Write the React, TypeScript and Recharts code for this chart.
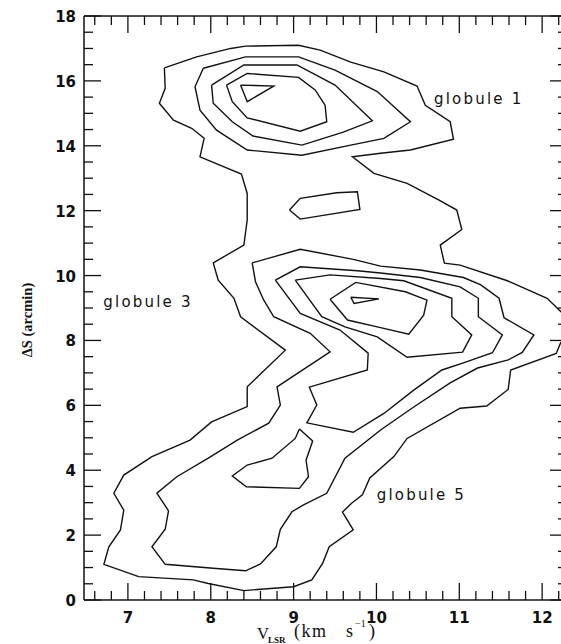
import React from 'react';
import { LineChart, Line, XAxis, YAxis, ReferenceDot } from 'recharts';

type P = [number, number];

// Contour polygons, [V_LSR (km/s), ΔS (arcmin)]
const outer: P[] = [
  [7.44, 16.4], [7.83, 16.74], [8.24, 17.0], [8.42, 17.07], [9.06, 17.1], [9.32, 16.95], [9.69, 16.58],
  [10.09, 16.28], [10.49, 15.84], [10.59, 15.25], [10.89, 14.74], [10.93, 14.2], [10.41, 13.87],
  [10.05, 13.77], [9.71, 13.66], [9.97, 13.15], [10.37, 12.84], [10.75, 12.33], [10.97, 12.02],
  [11.03, 11.42], [10.77, 10.94], [10.82, 10.38], [11.01, 10.32], [11.58, 9.84], [12.06, 9.3],
  [12.23, 8.88], [12.36, 8.4], [12.22, 7.91], [12.17, 7.6], [11.62, 7.09], [11.59, 6.49], [11.33, 5.98],
  [11.01, 5.91], [10.37, 4.98], [10.21, 4.42], [9.92, 3.76], [9.83, 3.24], [9.7, 2.98], [9.59, 2.71],
  [9.72, 2.16], [9.43, 1.64], [9.35, 1.13], [9.22, 0.62], [9.0, 0.41], [8.4, 0.29], [7.97, 0.51],
  [7.79, 0.62], [7.13, 0.72], [6.71, 1.1], [6.77, 1.64], [6.91, 2.16], [6.95, 2.77], [6.83, 3.29],
  [6.95, 3.85], [7.29, 4.42], [7.75, 4.93], [8.01, 5.49], [8.44, 5.96], [8.44, 6.57], [8.9, 7.7],
  [8.36, 8.73], [8.28, 9.3], [8.09, 9.86], [8.03, 10.39], [8.4, 10.94], [8.44, 11.71], [8.44, 12.53],
  [8.37, 13.13], [7.87, 13.66], [7.92, 14.23], [7.77, 14.54], [7.55, 14.79], [7.38, 15.31], [7.45, 15.77],
];

const g1Level2: P[] = [
  [7.91, 16.39], [8.42, 16.74], [9.06, 16.74], [9.5, 16.33], [10.01, 15.67], [10.41, 14.74],
  [10.09, 14.23], [9.69, 14.02], [9.1, 13.71], [8.44, 13.87], [8.07, 14.48], [7.87, 15.1], [7.81, 15.82],
];

const g1Level3: P[] = [
  [8.01, 15.87], [8.4, 16.49], [9.04, 16.49], [9.5, 15.87], [9.95, 14.77], [9.6, 14.42],
  [9.1, 14.02], [8.51, 14.3], [8.26, 14.74], [8.03, 15.31],
];

const g1Level4: P[] = [
  [8.19, 15.87], [8.44, 16.23], [9.06, 16.11], [9.26, 15.72], [9.38, 15.25], [9.4, 14.74],
  [9.08, 14.45], [8.44, 14.86], [8.26, 15.36],
];

const g1Level5: P[] = [[8.36, 15.87], [8.76, 15.84], [8.44, 15.36]];

const midIsland: P[] = [
  [8.95, 12.02], [9.08, 12.38], [9.52, 12.55], [9.77, 12.58], [9.8, 12.04], [9.08, 11.74],
];

const g35Level2: P[] = [
  [8.5, 10.39], [9.08, 10.81], [9.72, 10.5], [10.05, 10.29], [10.53, 10.17], [11.05, 9.94], [11.26, 9.71],
  [11.48, 9.3], [11.54, 8.7], [11.9, 8.17], [11.76, 7.63], [11.59, 7.4], [11.22, 7.15], [10.89, 6.69],
  [10.45, 5.95], [10.05, 5.24], [9.62, 4.37], [9.4, 3.29], [9.12, 2.93], [8.98, 2.72], [8.84, 2.18],
  [8.79, 1.64], [8.6, 1.11], [8.42, 0.9], [8.03, 0.98], [7.45, 1.1], [7.29, 1.64], [7.45, 2.18],
  [7.49, 2.75], [7.35, 3.29], [7.59, 3.8], [7.97, 4.37], [8.32, 4.93], [8.7, 5.45], [8.84, 6.01],
  [8.8, 6.57], [9.44, 7.65], [9.2, 8.22], [8.76, 8.73], [8.64, 9.24], [8.54, 9.81],
];

const g35Level3: P[] = [
  [8.78, 9.86], [9.08, 10.27], [9.77, 10.15], [10.05, 10.08], [10.53, 9.94], [11.01, 9.65], [11.23, 9.3],
  [11.23, 8.73], [11.52, 8.17], [11.4, 7.62], [11.05, 7.31], [10.79, 7.09], [10.45, 6.47], [10.09, 5.75],
  [9.72, 5.17], [9.16, 5.46], [9.28, 6.01], [9.19, 6.56], [9.89, 7.09], [9.9, 7.61], [9.56, 8.32],
  [9.08, 8.83],
];

const lowIsland: P[] = [
  [9.07, 5.27], [9.23, 4.9], [9.15, 4.31], [9.18, 3.8], [9.07, 3.44], [8.43, 3.49], [8.26, 3.82],
  [8.44, 4.16], [8.74, 4.37], [9.02, 4.98],
];

const g35Level4: P[] = [
  [9.02, 9.86], [9.44, 10.02], [10.05, 9.91], [10.33, 9.84], [10.91, 9.3], [10.91, 8.73], [11.15, 8.17],
  [11.04, 7.64], [10.37, 7.48], [10.01, 8.11], [9.62, 8.42], [9.34, 8.73],
];

const g35Level5: P[] = [
  [9.44, 9.27], [9.75, 9.79], [10.35, 9.5], [10.61, 9.24], [10.57, 8.78], [10.39, 8.19], [10.01, 8.42],
  [9.65, 8.63],
];

const g35Level6: P[] = [[9.69, 9.33], [10.03, 9.28], [9.73, 9.14]];

const contours: P[][] = [
  outer, g1Level2, g1Level3, g1Level4, g1Level5, midIsland,
  g35Level2, g35Level3, lowIsland, g35Level4, g35Level5, g35Level6,
];

const xTicks = [
  6.6, 6.8, 7, 7.2, 7.4, 7.6, 7.8, 8, 8.2, 8.4, 8.6, 8.8, 9, 9.2, 9.4, 9.6, 9.8, 10, 10.2, 10.4,
  10.6, 10.8, 11, 11.2, 11.4, 11.6, 11.8, 12, 12.2,
];
const xTickLabels = [7, 8, 9, 10, 11, 12];
const yTicks = [
  0, 0.5, 1, 1.5, 2, 2.5, 3, 3.5, 4, 4.5, 5, 5.5, 6, 6.5, 7, 7.5, 8, 8.5, 9, 9.5, 10, 10.5, 11, 11.5,
  12, 12.5, 13, 13.5, 14, 14.5, 15, 15.5, 16, 16.5, 17, 17.5, 18,
];
const yTickLabels = [0, 2, 4, 6, 8, 10, 12, 14, 16, 18];

const annotations = [
  { text: 'globule 1', x: 10.695, y: 15.28 },
  { text: 'globule 3', x: 6.703, y: 9.04 },
  { text: 'globule 5', x: 10.003, y: 3.07 },
];

// layout
const CHART_W = 568;
const CHART_H = 644;
const M_TOP = 15;
const M_LEFT = 24;
const TOP_AXIS_H = 1;
const BOTTOM_AXIS_H = 44;
const LEFT_AXIS_W = 60;
const RIGHT_AXIS_W = 1;
const PLOT_TOP = M_TOP + TOP_AXIS_H;
const PLOT_BOTTOM = CHART_H - BOTTOM_AXIS_H;
const PLOT_LEFT = M_LEFT + LEFT_AXIS_W;
const PLOT_RIGHT = CHART_W - RIGHT_AXIS_W;

const INK = '#111';
const TICK_FONT = 'DejaVu Sans';
const MAJOR = 17;
const MINOR = 9;
const TICK_W = 1.3;

const BottomTick = (props: any) => {
  const { x, payload } = props;
  const v = payload.value;
  const major = xTickLabels.includes(v);
  const len = major ? MAJOR : MINOR;
  return (
    <g>
      <path d={`M${x},${PLOT_BOTTOM}V${PLOT_BOTTOM - len}`} stroke={INK} strokeWidth={TICK_W} fill="none" />
      <path d={`M${x},${PLOT_TOP}V${PLOT_TOP + len}`} stroke={INK} strokeWidth={TICK_W} fill="none" />
      {major && (
        <text x={x} y={PLOT_BOTTOM + 23} textAnchor="middle" fontFamily={TICK_FONT} fontWeight="bold" fontSize={15} fill={INK}>
          {v}
        </text>
      )}
    </g>
  );
};

const LeftTick = (props: any) => {
  const { y, payload } = props;
  const v = payload.value;
  const major = yTickLabels.includes(v);
  const len = major ? MAJOR : MINOR;
  return (
    <g>
      <path d={`M${PLOT_LEFT},${y}H${PLOT_LEFT + len}`} stroke={INK} strokeWidth={TICK_W} fill="none" />
      {major && (
        <text x={PLOT_LEFT - 8} y={y + 6} textAnchor="end" fontFamily={TICK_FONT} fontWeight="bold" fontSize={15} fill={INK}>
          {v}
        </text>
      )}
    </g>
  );
};

const RightTick = (props: any) => {
  const { y, payload } = props;
  const major = yTickLabels.includes(payload.value);
  const len = major ? MAJOR : MINOR;
  return <path d={`M${PLOT_RIGHT},${y}H${PLOT_RIGHT - len}`} stroke={INK} strokeWidth={TICK_W} fill="none" />;
};

const SERIF = 'Liberation Serif';

const XTitle = () => (
  <g fill={INK} fontFamily={SERIF}>
    <text x={257} y={639} fontSize={16.5}>V</text>
    <text x={268} y={643} fontSize={9} fontWeight="bold">LSR</text>
    <text x={294} y={637} fontSize={18} letterSpacing={1.5}>(km</text>
    <text x={346} y={637} fontSize={18}>s</text>
    <text x={355} y={627} fontSize={10}>−1</text>
    <text x={369} y={637} fontSize={18}>)</text>
  </g>
);

const YTitle = () => (
  <text
    x={32}
    y={320}
    transform="rotate(-90, 32, 320)"
    textAnchor="middle"
    fontFamily={SERIF}
    fontWeight="bold"
    fontSize={14.5}
    fill={INK}
  >
    ΔS (arcmin)
  </text>
);

const closed = (c: P[]) => [...c, c[0]].map(([x, y]) => ({ x, y }));

export default function App() {
  return (
    <div style={{ position: 'absolute', left: 0, top: 0, width: 561, height: 644, overflow: 'hidden', background: '#fff' }}>
      <LineChart width={CHART_W} height={CHART_H} margin={{ top: M_TOP, right: 0, bottom: 0, left: M_LEFT }}>
        <XAxis
          xAxisId={0}
          type="number"
          dataKey="x"
          domain={[6.47, 12.3]}
          allowDataOverflow
          ticks={xTicks}
          interval={0}
          height={BOTTOM_AXIS_H}
          tickLine={false}
          tickSize={0}
          tickMargin={0}
          axisLine={{ stroke: INK, strokeWidth: 1.5 }}
          tick={(p: any) => <BottomTick {...p} />}
          label={<XTitle />}
        />
        <XAxis
          xAxisId="top"
          orientation="top"
          type="number"
          domain={[6.47, 12.3]}
          allowDataOverflow
          ticks={xTicks}
          height={TOP_AXIS_H}
          tickLine={false}
          tick={false}
          axisLine={{ stroke: INK, strokeWidth: 1.5 }}
        />
        <YAxis
          yAxisId={0}
          type="number"
          domain={[0, 18]}
          allowDataOverflow
          ticks={yTicks}
          interval={0}
          width={LEFT_AXIS_W}
          tickLine={false}
          tickSize={0}
          tickMargin={0}
          axisLine={{ stroke: INK, strokeWidth: 1.5 }}
          tick={(p: any) => <LeftTick {...p} />}
          label={<YTitle />}
        />
        <YAxis
          yAxisId="right"
          orientation="right"
          type="number"
          domain={[0, 18]}
          allowDataOverflow
          ticks={yTicks}
          interval={0}
          width={RIGHT_AXIS_W}
          tickLine={false}
          tickSize={0}
          tickMargin={0}
          axisLine={{ stroke: INK, strokeWidth: 1.5 }}
          tick={(p: any) => <RightTick {...p} />}
        />
        {contours.map((c, i) => (
          <Line
            key={i}
            xAxisId={0}
            yAxisId={0}
            data={closed(c)}
            dataKey="y"
            type="linear"
            stroke={INK}
            strokeWidth={1.4}
            dot={false}
            activeDot={false}
            isAnimationActive={false}
          />
        ))}
        {annotations.map((a) => (
          <ReferenceDot
            key={a.text}
            xAxisId={0}
            yAxisId={0}
            x={a.x}
            y={a.y}
            r={0}
            shape={(p: any) => (
              <text x={p.cx} y={p.cy} fontFamily="DejaVu Sans" fontSize={15} letterSpacing={2.2} fill={INK}>
                {a.text}
              </text>
            )}
          />
        ))}
      </LineChart>
    </div>
  );
}
